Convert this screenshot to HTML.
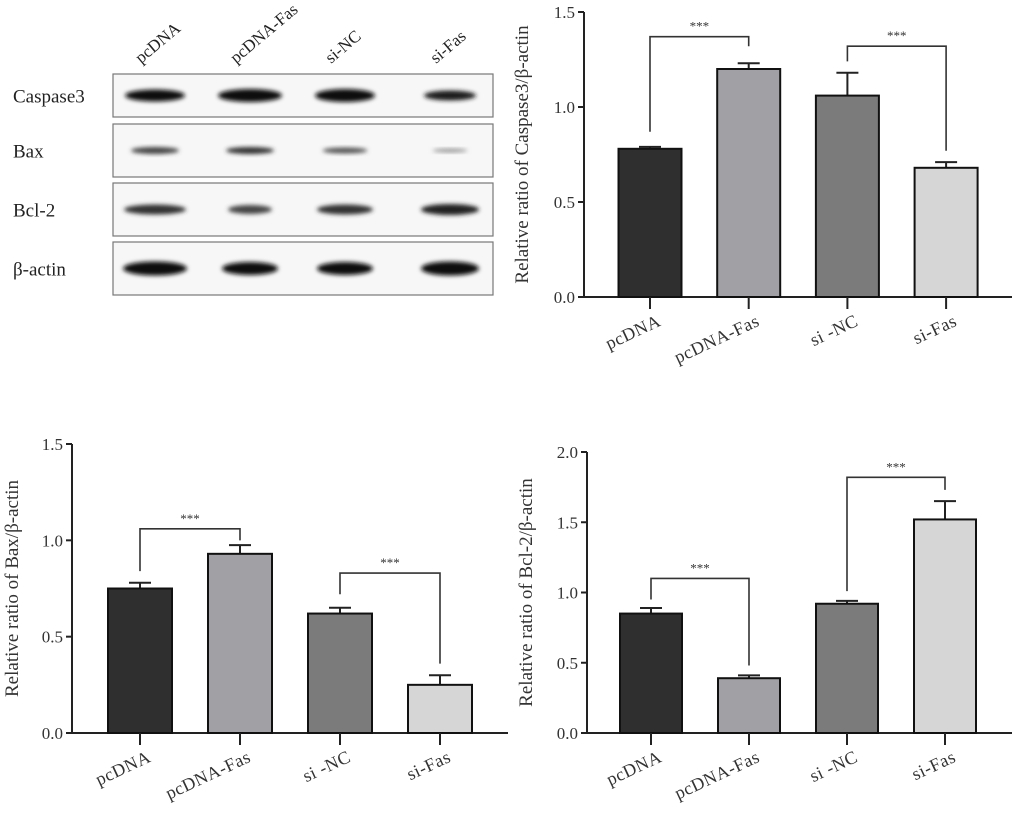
<!DOCTYPE html>
<html><head><meta charset="utf-8"><style>
body{margin:0;background:#fff}
svg{display:block;font-family:"Liberation Serif",serif}
</style></head><body>
<svg id="fig" width="1020" height="813" viewBox="0 0 1020 813">
<defs>
<filter id="blur" x="-20%" y="-50%" width="140%" height="200%"><feGaussianBlur stdDeviation="2.2"/></filter>
</defs>
<g id="blot"></g>
<g id="c1"></g>
<g id="c2"></g>
<g id="c3"></g>
</svg>
<script>
const categories = ["pcDNA","pcDNA-Fas","si-NC","si-Fas"];
const casp3Values = [0.78,1.20,1.06,0.68];
const casp3Errors = [0.01,0.03,0.12,0.03];
const baxValues = [0.75,0.93,0.62,0.25];
const baxErrors = [0.03,0.045,0.03,0.05];
const bcl2Values = [0.85,0.39,0.92,1.52];
const bcl2Errors = [0.04,0.02,0.02,0.13];
const ticks15 = [0,0.5,1.0,1.5];
const ticks20 = [0,0.5,1.0,1.5,2.0];
const casp3Brackets = [[0,1,1.37,0.87,1.32],[2,3,1.32,1.24,0.77]];
const baxBrackets = [[0,1,1.06,0.84,1.0],[2,3,0.83,0.72,0.36]];
const bcl2Brackets = [[0,1,1.10,0.95,0.48],[2,3,1.82,1.01,1.73]];
const barColors = ["#2f2f2f","#a1a1a5","#7b7b7b","#d6d6d6"];
const NS="http://www.w3.org/2000/svg";
function mk(p,t,a){const e=document.createElementNS(NS,t);for(const k in a)e.setAttribute(k,a[k]);p.appendChild(e);return e;}

function chart(gid,cfg){
  const g=document.getElementById(gid);
  const y=v=>cfg.y0-(v/cfg.max)*(cfg.y0-cfg.yTop);
  const cx=i=>cfg.c0+i*cfg.step;
  const ax=mk(g,'line',{x1:cfg.ax,y1:cfg.yTop,x2:cfg.ax,y2:cfg.y0,stroke:'#222','stroke-width':2});
  
  
  const xa=mk(g,'line',{x1:cfg.ax-6,y1:cfg.y0,x2:cfg.xEnd,y2:cfg.y0,stroke:'#222','stroke-width':2});
  
  
  cfg.ticks.forEach(t=>{
    mk(g,'line',{x1:cfg.ax-6,y1:y(t),x2:cfg.ax,y2:y(t),stroke:'#222','stroke-width':2});
    const tl=mk(g,'text',{x:cfg.ax-9,y:y(t)+6,'text-anchor':'end','font-size':17,fill:'#333'});
    tl.textContent=t.toFixed(1);
    
    
  });
  const tt=mk(g,'text',{transform:`translate(${cfg.titleX},${(cfg.yTop+cfg.y0)/2}) rotate(-90)`,'text-anchor':'middle','font-size':19,fill:'#333'});
  tt.textContent=cfg.title;
  
  
  categories.forEach((c,i)=>{
    const v=cfg.values[i],e=cfg.errors[i],x=cx(i),w=cfg.bw;
    mk(g,'line',{x1:x,y1:y(v+e),x2:x,y2:y(v),stroke:'#222','stroke-width':2});
    mk(g,'line',{x1:x-11,y1:y(v+e),x2:x+11,y2:y(v+e),stroke:'#222','stroke-width':2});
    const r=mk(g,'rect',{x:x-w/2,y:y(v),width:w,height:cfg.y0-y(v),fill:barColors[i],stroke:'#111','stroke-width':2});
    
    
    mk(g,'line',{x1:x,y1:cfg.y0,x2:x,y2:cfg.y0+12,stroke:'#222','stroke-width':2});
    const l=mk(g,'text',{transform:`translate(${x+12},${cfg.y0+28}) rotate(-25)`,'text-anchor':'end','font-size':18,fill:'#333','letter-spacing':'0.5'});
    l.textContent=c==="si-NC"?"si -NC":c;
    
    
  });
  cfg.brackets.forEach(b=>{
    const [a,c,top,la,lc]=b;
    const p=mk(g,'path',{d:`M${cx(a)},${y(la)}V${y(top)}H${cx(c)}V${y(lc)}`,fill:'none',stroke:'#333','stroke-width':1.6});
    
    
    const s=mk(g,'text',{x:(cx(a)+cx(c))/2,y:y(top)-6,'text-anchor':'middle','font-size':13,fill:'#333'});
    s.textContent='***';
    
    
  });
}
chart('c1',{ax:584,xEnd:1012,yTop:12,y0:297,max:1.5,ticks:ticks15,c0:650,step:98.7,bw:63,values:casp3Values,errors:casp3Errors,brackets:casp3Brackets,title:"Relative ratio of Caspase3/β-actin",titleX:528});
chart('c2',{ax:72,xEnd:508,yTop:444,y0:733,max:1.5,ticks:ticks15,c0:140,step:100,bw:64,values:baxValues,errors:baxErrors,brackets:baxBrackets,title:"Relative ratio of Bax/β-actin",titleX:18});
chart('c3',{ax:587,xEnd:1012,yTop:452,y0:733,max:2.0,ticks:ticks20,c0:651,step:98,bw:62,values:bcl2Values,errors:bcl2Errors,brackets:bcl2Brackets,title:"Relative ratio of Bcl-2/β-actin",titleX:532});

// western blot
const blotRows=["Caspase3","Bax","Bcl-2","β-actin"];
const rowTop=[74,124,183,242],rowH=[43,53,53,53];
const laneX=[155,250,345,450];
const bandW=[[60,64,60,52],[48,48,45,35],[62,44,56,58],[64,56,56,58]];
const bandH=[[10,11,11,8],[5,5,4,2],[8,7,8,9],[12,11,11,12]];
const bandC=[["#111","#111","#111","#1a1a1a"],["#444","#333","#555","#999"],["#333","#444","#333","#222"],["#0d0d0d","#111","#111","#0d0d0d"]];
const bg=document.getElementById('blot');
blotRows.forEach((n,r)=>{
  const box=mk(bg,'rect',{x:113,y:rowTop[r],width:380,height:rowH[r],fill:'#f7f7f7',stroke:'#777','stroke-width':1.2});
  
  
  const lb=mk(bg,'text',{x:13,y:rowTop[r]+rowH[r]/2+7,'font-size':19,fill:'#222'});
  lb.textContent=n;
  
  
  laneX.forEach((x,i)=>{
    const e=mk(bg,'ellipse',{cx:x,cy:rowTop[r]+rowH[r]/2,rx:bandW[r][i]/2,ry:bandH[r][i]/2+1,fill:bandC[r][i],filter:'url(#blur)'});
    
    
  });
});
categories.forEach((c,i)=>{
  const t=mk(bg,'text',{transform:`translate(${laneX[i]-14},${64}) rotate(-40)`,'font-size':17,fill:'#222'});
  t.textContent=c;
  
  
});
</script>
</body></html>
